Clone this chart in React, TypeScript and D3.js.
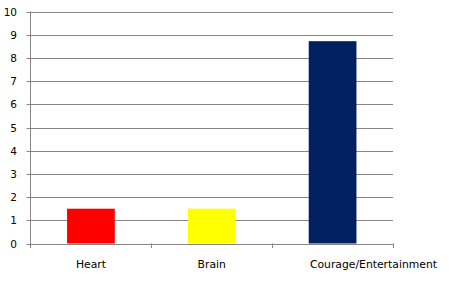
import React, { useLayoutEffect, useRef } from "react";
import * as d3 from "d3";

const categories = ["Heart", "Brain", "Courage/Entertainment"];
const values = [1.5, 1.5, 8.72];
const barColors = ["#FF0000", "#FFFF00", "#002060"];
const yTicks = [0, 1, 2, 3, 4, 5, 6, 7, 8, 9, 10];

const W = 449;
const H = 291;
const left = 30.5;
const right = 393;
const top = 11.5;
const bottom = 243.5;
const labelMaxRight = 437;

export default function App() {
  const gRef = useRef<SVGGElement>(null);
  const x = d3.scaleBand<string>().domain(categories).range([left, right]).paddingInner(0).paddingOuter(0);
  const y = d3.scaleLinear().domain([0, 10]).range([bottom, top]);
  const bw = x.bandwidth() * 0.395;
  const font = "DejaVu Sans, Verdana, sans-serif";

  useLayoutEffect(() => {
    if (!gRef.current) return;
    d3.select(gRef.current)
      .selectAll<SVGTextElement, unknown>("text")
      .each(function () {
        const w = this.getComputedTextLength();
        const cx = +this.getAttribute("data-cx")!;
        if (cx + w / 2 > right) {
          this.setAttribute("x", String(labelMaxRight - w / 2));
        }
      });
  }, []);

  return (
    <svg width={W} height={H} style={{ position: "absolute", left: 0, top: 0, background: "#fff" }}>
      {yTicks.map((t) => (
        <g key={t}>
          <line x1={left - 4} x2={right} y1={Math.round(y(t)) + 0.5} y2={Math.round(y(t)) + 0.5} stroke="#868686" strokeWidth={1} />
          <text x={17} y={Math.round(y(t)) + 4} textAnchor="end" fontFamily={font} fontSize={10.5} fill="#000">
            {t}
          </text>
        </g>
      ))}
      <line x1={left} x2={left} y1={top} y2={bottom + 4.5} stroke="#868686" strokeWidth={1} />
      {categories.map((c) => (
        <line key={"t" + c} x1={Math.round(x(c)! + x.bandwidth()) + 0.5} x2={Math.round(x(c)! + x.bandwidth()) + 0.5} y1={bottom} y2={bottom + 4.5} stroke="#868686" strokeWidth={1} />
      ))}
      {categories.map((c, i) => {
        const cx = x(c)! + x.bandwidth() / 2;
        return (
          <rect key={c} x={cx - bw / 2} y={y(values[i])} width={bw} height={y(0) - y(values[i])} fill={barColors[i]} />
        );
      })}
      <g ref={gRef}>
        {categories.map((c) => {
          const cx = x(c)! + x.bandwidth() / 2;
          return (
            <text key={"l" + c} data-cx={cx} x={cx} y={268} textAnchor="middle" fontFamily={font} fontSize={10.8} fill="#000">
              {c}
            </text>
          );
        })}
      </g>
    </svg>
  );
}
